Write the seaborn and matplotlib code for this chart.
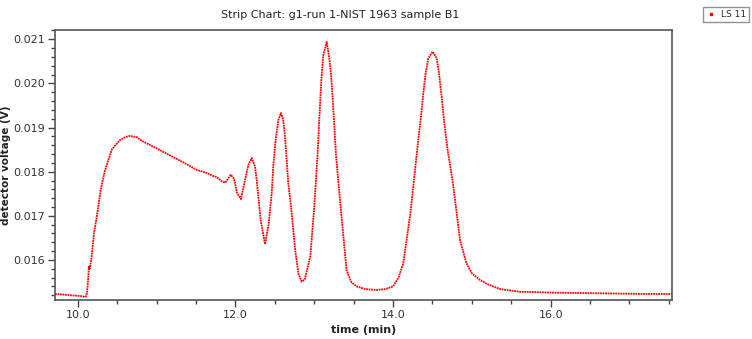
import matplotlib
matplotlib.use("Agg")
import matplotlib.pyplot as plt
from matplotlib.ticker import MultipleLocator, FormatStrFormatter
from matplotlib.lines import Line2D
import seaborn as sns
import pandas as pd

time_min = [9.71, 9.80, 9.90, 10.00, 10.05, 10.09, 10.11, 10.12, 10.13, 10.14, 10.15, 10.17,
            10.205, 10.24, 10.29, 10.34, 10.43, 10.53, 10.60, 10.66, 10.75, 10.83, 11.00,
            11.21, 11.35, 11.51, 11.635, 11.72, 11.76, 11.83, 11.87, 11.94, 11.98, 12.02,
            12.07, 12.12, 12.163, 12.206, 12.248, 12.27, 12.32, 12.375, 12.42, 12.46, 12.48,
            12.51, 12.544, 12.578, 12.607, 12.629, 12.65, 12.67, 12.705, 12.76, 12.80, 12.84,
            12.88, 12.95, 13.00, 13.044, 13.064, 13.082, 13.094, 13.115, 13.158, 13.191,
            13.213, 13.234, 13.254, 13.276, 13.33, 13.41, 13.47, 13.54, 13.65, 13.79, 13.90,
            14.00, 14.07, 14.13, 14.22, 14.32, 14.355, 14.384, 14.414, 14.447, 14.503,
            14.554, 14.583, 14.617, 14.65, 14.693, 14.76, 14.85, 14.93, 15.00, 15.10, 15.20,
            15.36, 15.61, 15.85, 16.00, 16.40, 16.80, 17.20, 17.54]
voltage = [0.01523, 0.01522, 0.01520, 0.01519, 0.01518, 0.01516, 0.01519, 0.01534, 0.01555, 0.01585,
           0.01580, 0.01600,
           0.01661, 0.01698, 0.01759, 0.01800, 0.01850, 0.01871, 0.01878, 0.01881, 0.01878, 0.01868,
           0.01853,
           0.01833, 0.01820, 0.01804, 0.01797, 0.01790, 0.01788, 0.01778, 0.01775, 0.01793, 0.01785,
           0.01752,
           0.01738, 0.01780, 0.01815, 0.01831, 0.01812, 0.01781, 0.01690, 0.01636, 0.01680, 0.01751,
           0.01812,
           0.01872, 0.01917, 0.01933, 0.01917, 0.01880, 0.01827, 0.01774, 0.01721, 0.01620, 0.01568,
           0.01551,
           0.01556, 0.01608, 0.01720, 0.01845, 0.01920, 0.01981, 0.02019, 0.02064, 0.02094, 0.02057,
           0.02019, 0.01966, 0.01905, 0.01837, 0.01729, 0.01577, 0.01550, 0.01540, 0.01534, 0.01532,
           0.01534,
           0.01540, 0.01560, 0.01593, 0.01706, 0.01872, 0.01925, 0.01978, 0.02023, 0.02057, 0.02072,
           0.02057, 0.02023, 0.01970, 0.01910, 0.01849, 0.01774, 0.01645, 0.01593, 0.01570, 0.01555,
           0.01545,
           0.01534, 0.01528, 0.01527, 0.01526, 0.01525, 0.01524, 0.01523, 0.01523]

series_name = "LS 11"
title_text = "Strip Chart: g1-run 1-NIST 1963 sample B1"

df = pd.DataFrame({"time": time_min, "voltage": voltage})

sns.set_style("white")
plt.rcParams["font.family"] = ["DejaVu Sans"]

fig = plt.figure(figsize=(7.52, 3.39), dpi=100)
ax = fig.add_axes([55/752, 1-300/339, (672-55)/752, (300-30)/339])

sns.lineplot(data=df, x="time", y="voltage", ax=ax, color="#ff0000", linewidth=1.3,
             linestyle=(0, (1, 0.4)), sort=False)

ax.set_xlim(9.71, 17.54)
ax.set_ylim(0.015093, 0.02121)
ax.xaxis.set_major_locator(MultipleLocator(2.0))
ax.xaxis.set_minor_locator(MultipleLocator(0.5))
ax.yaxis.set_major_locator(MultipleLocator(0.001))
ax.yaxis.set_minor_locator(MultipleLocator(0.0002))
ax.xaxis.set_major_formatter(FormatStrFormatter("%.1f"))
ax.yaxis.set_major_formatter(FormatStrFormatter("%.3f"))
ax.tick_params(axis="both", which="major", direction="out", length=5, width=1,
               color="#444444", labelsize=8, labelcolor="#333333", pad=2)
ax.tick_params(axis="both", which="minor", direction="out", length=3, width=1, color="#444444")
ax.tick_params(bottom=True, left=True, top=False, right=False)
ax.tick_params(which="minor", bottom=True, left=True)
for s in ax.spines.values():
    s.set_color("#555555")
    s.set_linewidth(1.2)
    s.set_visible(True)

ax.set_xlabel("time (min)", fontsize=8, fontweight="bold", color="#222222", labelpad=4)
ax.set_ylabel("detector voltage (V)", fontsize=7.5, fontweight="bold", color="#222222", labelpad=2)

fig.text(340/752, 1-15/339, title_text, ha="center", va="center", fontsize=8, color="#222222")

handle = Line2D([], [], color="#ff0000", marker="s", markersize=1.8, linestyle="none")
leg = fig.legend([handle], [series_name], loc="upper right", bbox_to_anchor=(749/752, 1-7/339),
                 fontsize=6.5, frameon=True, fancybox=False, handlelength=1.0,
                 borderpad=0.35, handletextpad=0.6, borderaxespad=0.0)
leg.get_frame().set_edgecolor("#777777")
leg.get_frame().set_linewidth(1.0)

fig.savefig("out.png", dpi=100)
